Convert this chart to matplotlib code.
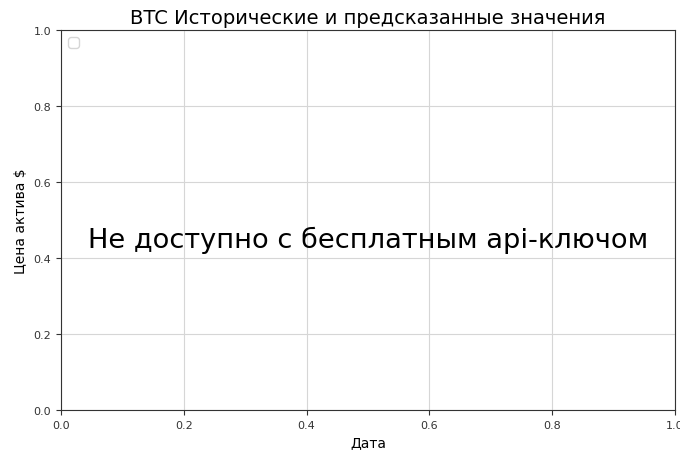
import matplotlib
matplotlib.use("Agg")
import matplotlib.pyplot as plt
import warnings

asset = "BTC"
title_text = f"{asset} Исторические и предсказанные значения"
x_label = "Дата"
y_label = "Цена актива $"
notice = "Не доступно с бесплатным api-ключом"

fig = plt.figure(figsize=(6.8, 4.52), dpi=100)
ax = fig.add_axes([61 / 680, 41 / 452, 614 / 680, 380 / 452])

ax.set_xlim(0, 1)
ax.set_ylim(0, 1)
ax.grid(True, color="#d6d6d6", linewidth=0.8)
ax.set_axisbelow(True)

ax.set_title(title_text, fontsize=14, pad=5)
ax.set_xlabel(x_label, fontsize=10)
ax.set_ylabel(y_label, fontsize=10)
ax.tick_params(labelsize=8, colors="#333333")
for s in ax.spines.values():
    s.set_color("#333333")

ax.text(0.5, 0.45, notice, transform=ax.transAxes, ha="center", va="center",
        fontsize=19.6)

# empty legend (no labelled artists yet)
with warnings.catch_warnings():
    warnings.simplefilter("ignore")
    ax.legend(loc="upper left")

fig.savefig("out.png", dpi=100)
